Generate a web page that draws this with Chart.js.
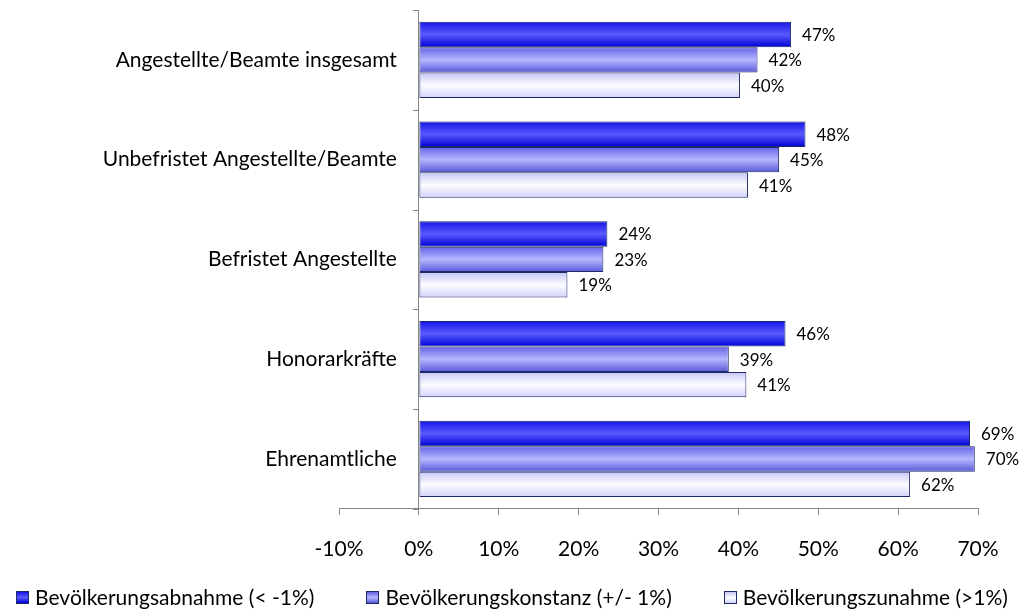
<!DOCTYPE html>
<html>
<head>
<meta charset="utf-8">
<script src="https://cdn.jsdelivr.net/npm/chart.js@4.4.0/dist/chart.umd.min.js"></script>
<style>
  body { margin: 0; background: #fff; }
  #wrap { position: relative; width: 1024px; height: 614px; }
  #legend {
    position: absolute; left: 0; right: 0; top: 584px;
    display: flex; justify-content: center; gap: 52px;
    font: 21px Lato, sans-serif; color: #000; line-height: 26px;
  }
  #legend .item { display: flex; align-items: center; white-space: nowrap; }
  #legend .box { width: 11px; height: 11px; border: 1px solid #1c2a66; margin-right: 6px; }
</style>
</head>
<body>
<div id="wrap"><canvas id="myChart"></canvas><div id="legend"></div></div>
<script>
const categories = ['Angestellte/Beamte insgesamt', 'Unbefristet Angestellte/Beamte', 'Befristet Angestellte', 'Honorarkräfte', 'Ehrenamtliche']
const seriesNames = ['Bevölkerungsabnahme (< -1%)', 'Bevölkerungskonstanz (+/- 1%)', 'Bevölkerungszunahme (>1%)']
const abnahme = [46.6, 48.4, 23.6, 45.9, 69.0]
const konstanz = [42.4, 45.1, 23.1, 38.8, 69.6]
const zunahme = [40.2, 41.2, 18.6, 41.0, 61.5]
const xTicks = [-10, 0, 10, 20, 30, 40, 50, 60, 70]

// Farben: Verlauf (oben, Mitte, unten) je Reihe
const stops = [
    [[0, '#1414e6'], [0.5, '#5a5aff'], [1, '#0000d6']],
    [[0, '#6262e6'], [0.5, '#b6b6ff'], [1, '#5858d8']],
    [[0, '#c6c6f6'], [0.5, '#fcfcff'], [1, '#d2d2fc']]
]
const solid = ['#3c3cff', '#9e9ef8', '#f2f2ff']
const edge = '#1c2a66'
const axisGrey = '#868686'
const fontFamily = 'Lato'

Chart.defaults.font.family = fontFamily
Chart.defaults.color = '#000'

// Verlauf pro Balken setzen
const gradientBars = {
    id: 'gradientBars',
    beforeDatasetsDraw(chart) {
        const ctx = chart.ctx
        chart.data.datasets.forEach((ds, di) => {
            chart.getDatasetMeta(di).data.forEach(el => {
                const h = el.height
                const g = ctx.createLinearGradient(0, el.y - h / 2, 0, el.y + h / 2)
                stops[di].forEach(s => g.addColorStop(s[0], s[1]))
                el.options.backgroundColor = g
            })
        })
    }
}

// Prozentwerte rechts neben den Balken
const valueLabels = {
    id: 'valueLabels',
    afterDatasetsDraw(chart) {
        const ctx = chart.ctx
        ctx.save()
        ctx.font = '17px ' + fontFamily
        ctx.fillStyle = '#000'
        ctx.textAlign = 'left'
        ctx.textBaseline = 'middle'
        chart.data.datasets.forEach((ds, di) => {
            chart.getDatasetMeta(di).data.forEach((el, i) => {
                ctx.fillText(Math.round(ds.data[i]) + '%', el.x + 11, el.y + 1)
            })
        })
        ctx.restore()
    }
}

// Kategorieachse sitzt bei 0%: Teilstriche und Beschriftung
const categoryAxis = {
    id: 'categoryAxis',
    afterDraw(chart) {
        const ctx = chart.ctx
        const x0 = chart.scales.x.getPixelForValue(0)
        const ys = chart.scales.y
        ctx.save()
        ctx.strokeStyle = axisGrey
        ctx.lineWidth = 1
        ctx.beginPath()
        for (let i = 0; i <= categories.length; i++) {
            const y = Math.round(ys.getPixelForValue(i - 0.5)) + 0.5
            ctx.moveTo(x0 - 6, y)
            ctx.lineTo(x0, y)
        }
        ctx.stroke()
        ctx.font = '21px ' + fontFamily
        ctx.fillStyle = '#000'
        ctx.textAlign = 'right'
        ctx.textBaseline = 'middle'
        categories.forEach((c, i) => {
            ctx.fillText(c, x0 - 22, ys.getPixelForValue(i))
        })
        ctx.restore()
    }
}

function makeDataset(name, values, idx) {
    return {
        label: name,
        data: values,
        backgroundColor: () => solid[idx],
        borderColor: edge,
        borderWidth: 1,
        borderSkipped: false,
        categoryPercentage: 0.765,
        barPercentage: 1
    }
}

const ctx = document.getElementById('myChart').getContext('2d')
const myChart = new Chart(ctx, {
    type: 'bar',
    data: {
        labels: categories,
        datasets: [
            makeDataset(seriesNames[0], abnahme, 0),
            makeDataset(seriesNames[1], konstanz, 1),
            makeDataset(seriesNames[2], zunahme, 2)
        ]
    },
    options: {
        indexAxis: 'y',
        responsive: true,
        maintainAspectRatio: false,
        animation: false,
        layout: { padding: { top: 10, right: 46, left: 0, bottom: 30 } },
        scales: {
            x: {
                min: -10,
                max: 70,
                afterBuildTicks: s => { s.ticks = xTicks.map(v => ({ value: v })) },
                ticks: {
                    callback: v => v + '%',
                    font: { size: 21 },
                    padding: 22,
                    maxRotation: 0
                },
                grid: {
                    color: c => (c.tick && c.tick.value === 0) ? axisGrey : 'transparent',
                    tickColor: axisGrey,
                    tickLength: 6
                },
                border: { display: true, color: axisGrey }
            },
            y: {
                afterFit: s => { s.width = 339 },
                ticks: { display: false },
                grid: { display: false, drawTicks: false },
                border: { display: false }
            }
        },
        plugins: {
            legend: { display: false },
            tooltip: { enabled: false }
        }
    },
    plugins: [gradientBars, valueLabels, categoryAxis]
})

// Legende als HTML aus den Datensätzen
const legendEl = document.getElementById('legend')
myChart.data.datasets.forEach((ds, di) => {
    const item = document.createElement('div')
    item.className = 'item'
    const box = document.createElement('span')
    box.className = 'box'
    box.style.background = 'linear-gradient(' + stops[di].map(s => s[1] + ' ' + (s[0] * 100) + '%').join(', ') + ')'
    const txt = document.createElement('span')
    txt.textContent = ds.label
    item.appendChild(box)
    item.appendChild(txt)
    legendEl.appendChild(item)
})
</script>
</body>
</html>
